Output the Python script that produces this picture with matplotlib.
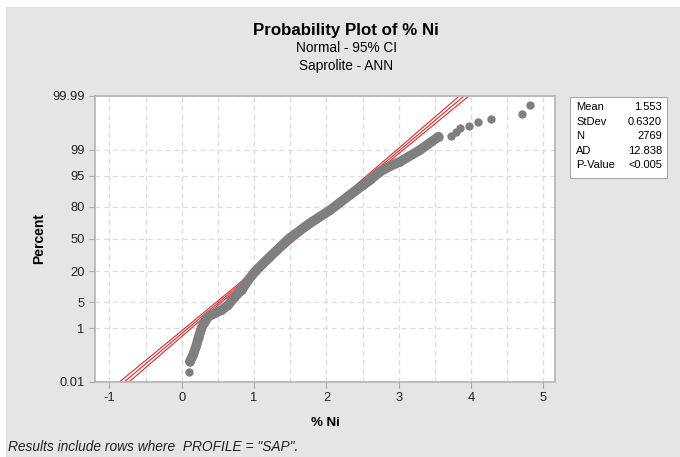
"""
    Normal probability plot of % Ni (saprolite, ANN) with fitted line and 95% CI.
"""

import numpy as np
import matplotlib
matplotlib.use("Agg")
import matplotlib.pyplot as plt
from matplotlib.patches import Rectangle
from statistics import NormalDist


ni_x = [0.097, 0.111, 0.156, 0.203, 0.235, 0.272, 0.318, 0.364, 0.456, 0.549,
        0.640, 0.733, 0.826, 0.917, 1.02, 1.22, 1.49, 1.77, 2.05, 2.32,
        2.60, 2.74, 2.88, 3.02, 3.29, 3.55,
        3.72, 3.79, 3.85, 3.97, 4.10, 4.28, 4.71, 4.82]
ni_pct = [0.028, 0.071, 0.126, 0.29, 0.55, 1.02, 1.58, 2.17, 2.68, 3.22,
          4.27, 6.68, 9.18, 14.2, 20.3, 32.3, 50.8, 65.9, 77.3, 87.3,
          93.7, 96.0, 97.1, 97.8, 98.96, 99.61,
          99.63, 99.74, 99.81, 99.84, 99.88, 99.91, 99.94, 99.976]
n_continuous = 26  # points forming the dense band

# Fitted normal line and 95% CI (x at given percent levels)
pct_levels = [0.01, 1, 10, 50, 90, 99, 99.99]
fit_x = [-0.797, 0.083, 0.743, 1.553, 2.363, 3.023, 3.903]
ci_lo = [-0.863, 0.038, 0.711, 1.530, 2.331, 2.978, 3.837]
ci_hi = [-0.731, 0.128, 0.775, 1.577, 2.395, 3.068, 3.969]

# Summary table
stat_names = ["Mean", "StDev", "N", "AD", "P-Value"]
stat_values = ["1.553", "0.6320", "2769", "12.838", "<0.005"]

y_ticks = [0.01, 1, 5, 20, 50, 80, 95, 99, 99.99]
y_ticklabels = ["0.01", "1", "5", "20", "50", "80", "95", "99", "99.99"]
x_ticks = [-1, 0, 1, 2, 3, 4, 5]


# probability scale
nd = NormalDist()
_ppf = np.vectorize(nd.inv_cdf, otypes=[float])
_cdf = np.vectorize(nd.cdf, otypes=[float])

def prob_fwd(p):
    p = np.clip(np.asarray(p, dtype=float), 1e-9, 100 - 1e-9)
    return _ppf(p / 100.0)

def prob_inv(z):
    return _cdf(np.asarray(z, dtype=float)) * 100.0


plt.rcParams["font.family"] = ["Liberation Sans", "DejaVu Sans"]
plt.rcParams["axes.unicode_minus"] = False
W, H = 680, 457
fig = plt.figure(figsize=(W / 100, H / 100), dpi=100, facecolor="white")

# gray panel behind everything
fig.add_artist(Rectangle((6 / W, 0), (W - 6) / W, (H - 7) / H, transform=fig.transFigure,
                         facecolor="#e5e5e5", edgecolor="#dadada", lw=0.6, zorder=-5))

ax = fig.add_axes([95 / W, 1 - 382 / H, 460 / W, 286 / H])
ax.set_facecolor("white")
ax.set_yscale("function", functions=(prob_fwd, prob_inv))
ax.set_ylim(0.01, 99.99)
ax.set_xlim(-1.2, 5.16)

# grid
ax.set_xticks(x_ticks)
ax.set_xticks(np.arange(-1, 5.01, 0.5), minor=True)
ax.set_yticks(y_ticks)
ax.set_yticklabels(y_ticklabels)
ax.yaxis.set_minor_locator(matplotlib.ticker.NullLocator())
ax.grid(True, which="both", axis="x", color="#dcdcdc", linestyle=(0, (4, 3)), lw=0.9)
ax.grid(True, which="major", axis="y", color="#dcdcdc", linestyle=(0, (4, 3)), lw=0.9)
ax.set_axisbelow(True)

# fit and CI
red = "#e02828"
ax.plot(fit_x, pct_levels, color=red, lw=0.8, zorder=2)
ax.plot(ci_lo, pct_levels, color=red, lw=0.8, zorder=2)
ax.plot(ci_hi, pct_levels, color=red, lw=0.8, zorder=2)

# data
gray = "#7f7f7f"
ax.plot(ni_x[1:n_continuous], ni_pct[1:n_continuous], color=gray, lw=7.0,
        solid_capstyle="round", solid_joinstyle="round", zorder=3)
ax.plot(ni_x, ni_pct, "o", color=gray, ms=6, mec="none", zorder=3)

for s in ax.spines.values():
    s.set_color("#b8b8b8")
    s.set_linewidth(1.3)
ax.tick_params(which="major", length=4, color="#a8a8a8", labelsize=9.3, labelcolor="#222222")
ax.tick_params(which="minor", length=0)

ax.set_xlabel("% Ni", fontsize=9.5, fontweight="bold", labelpad=9)
ax.set_ylabel("Percent", fontsize=10, fontweight="bold", labelpad=4)

# titles
fig.text(346 / W, 1 - 30 / H, "Probability Plot of % Ni", ha="center", va="center",
         fontsize=12.2, fontweight="bold")
fig.text(346 / W, 1 - 48 / H, "Normal - 95% CI", ha="center", va="center", fontsize=9.8)
fig.text(346 / W, 1 - 66 / H, "Saprolite - ANN", ha="center", va="center", fontsize=9.8)

# stats box
fig.add_artist(Rectangle((570 / W, 1 - 178 / H), 97 / W, 81 / H, transform=fig.transFigure,
                         facecolor="white", edgecolor="#a8a8a8", lw=0.8, zorder=1))
for i, (nm, val) in enumerate(zip(stat_names, stat_values)):
    yy = 1 - (107 + i * 14.6) / H
    fig.text(576 / W, yy, nm, ha="left", va="center", fontsize=8, zorder=3)
    fig.text(662 / W, yy, val, ha="right", va="center", fontsize=8, zorder=3)

fig.text(8 / W, 1 - 447 / H, 'Results include rows where  PROFILE = "SAP".',
         ha="left", va="center", fontsize=9.9, style="italic", color="#222222")

plt.savefig("out.png", dpi=100)
